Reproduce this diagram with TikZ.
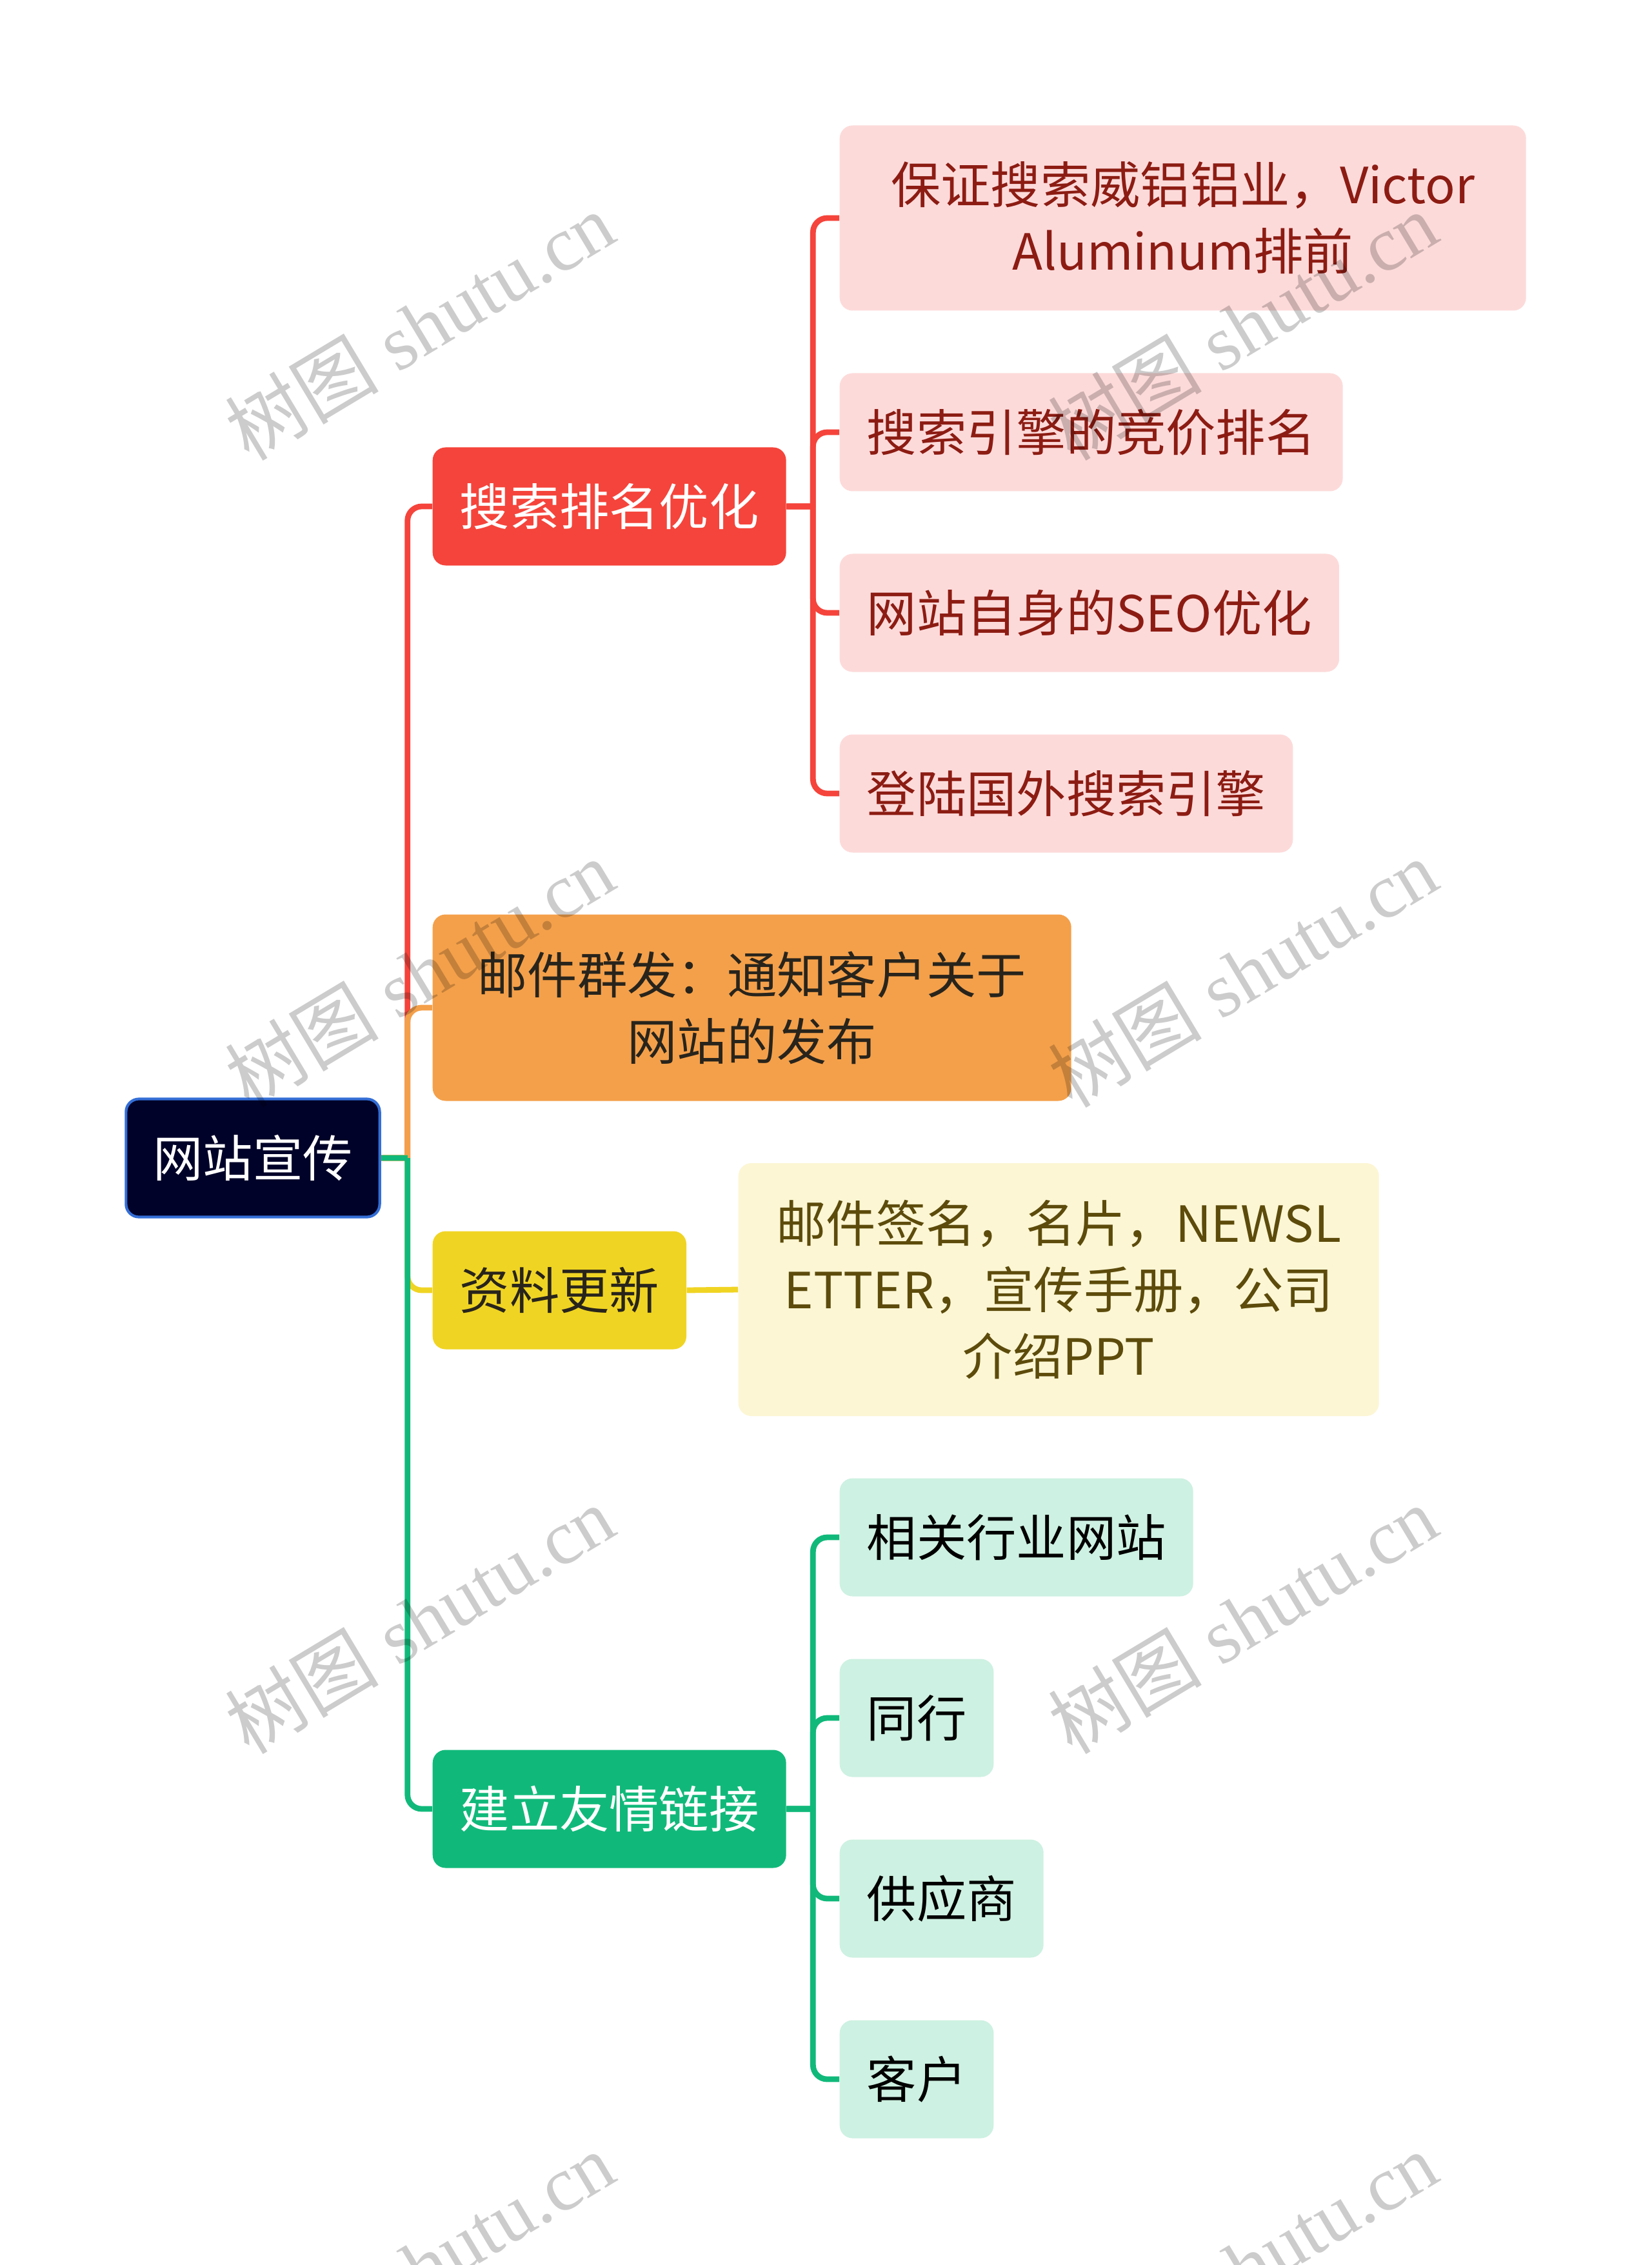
\documentclass[tikz,border=0pt]{standalone}
\usepackage{fontspec}
\setmainfont{Noto Sans CJK SC}
\newfontfamily\wmcjk{Noto Sans CJK SC}
\newfontfamily\wmlatin{Liberation Serif}
\usetikzlibrary{
    positioning,
    calc
}
\definecolor{rootnavy}{RGB}{0,2,41}
\definecolor{rootblue}{RGB}{52,110,214}
\definecolor{searchred}{RGB}{245,68,59}
\definecolor{mailorange}{RGB}{244,160,74}
\definecolor{docyellow}{RGB}{240,212,35}
\definecolor{linkgreen}{RGB}{16,185,122}
\definecolor{redleaf}{RGB}{253,218,218}
\definecolor{yellowleaf}{RGB}{252,246,212}
\definecolor{greenleaf}{RGB}{205,241,226}
\definecolor{redtext}{RGB}{140,28,19}
\definecolor{yellowtext}{RGB}{92,75,11}
\definecolor{darktext}{RGB}{40,36,28}

\begin{document}
\begin{tikzpicture}[
        box/.style={rounded corners=0.2cm, minimum height=1.83cm, inner xsep=0.42cm, anchor=west, align=center, font=\fontsize{22}{29.3}\selectfont},
        topic/.style={box, fill=#1},
        leaf/.style={box, fill=#1},
        link/.style={line width=2.5pt},
        wmtext/.style={text=black, opacity=0.2, rotate=31, font=\wmlatin\fontsize{34}{34}\selectfont}
    ]
        \clip (0,0) rectangle (25.6,-35.11);
        \fill[white] (0,0) rectangle (25.6,-35.11);

        % Root
        \node[box, anchor=center, fill=rootnavy, draw=rootblue, line width=1.2pt, text=white, minimum width=3.9cm] (site) at (3.92,-17.95) {网站宣传};

        % Main branches
        \node[topic=searchred, text=white] (rank) at (6.70,-7.85) {搜索排名优化};
        \node[topic=mailorange, text=darktext, minimum width=9.9cm, minimum height=2.89cm] (mail) at (6.70,-15.62) {邮件群发：通知客户关于\\网站的发布};
        \node[topic=docyellow, text=darktext] (docs) at (6.70,-20.00) {资料更新};
        \node[topic=linkgreen, text=white] (links) at (6.70,-28.04) {建立友情链接};

        % Search leaves
        \node[leaf=redleaf, text=redtext, minimum width=10.64cm, minimum height=2.87cm] (victor) at (13.01,-3.38) {保证搜索威铝铝业，Victor\\Aluminum排前};
        \node[leaf=redleaf, text=redtext] (bid) at (13.01,-6.70) {搜索引擎的竞价排名};
        \node[leaf=redleaf, text=redtext] (seo) at (13.01,-9.50) {网站自身的SEO优化};
        \node[leaf=redleaf, text=redtext] (abroad) at (13.01,-12.30) {登陆国外搜索引擎};

        % Material leaf
        \node[leaf=yellowleaf, text=yellowtext, minimum width=9.93cm, minimum height=3.92cm] (print) at (11.44,-19.99) {邮件签名，名片，NEWSL\\ETTER，宣传手册，公司\\介绍PPT};

        % Link leaves
        \node[leaf=greenleaf, text=black] (trade) at (13.01,-23.83) {相关行业网站};
        \node[leaf=greenleaf, text=black] (peer) at (13.01,-26.63) {同行};
        \node[leaf=greenleaf, text=black] (supplier) at (13.01,-29.43) {供应商};
        \node[leaf=greenleaf, text=black] (client) at (13.01,-32.23) {客户};

        % Connectors
        \foreach \c/\n in {searchred/rank, mailorange/mail, docyellow/docs, linkgreen/links} {
            \draw[link, \c] (site.east) -- ++(0.41,0) [rounded corners=0.22cm] ++(0,0) |- (\n.west);
        }
        \foreach \n in {victor, bid, seo, abroad} {
            \draw[link, searchred] (rank.east) -- ++(0.41,0) [rounded corners=0.22cm] ++(0,0) |- (\n.west);
        }
        \draw[link, docyellow] (docs.east) -- (print.west);
        \foreach \n in {trade, peer, supplier, client} {
            \draw[link, linkgreen] (links.east) -- ++(0.41,0) [rounded corners=0.22cm] ++(0,0) |- (\n.west);
        }

        % Watermarks
        \foreach \x/\y [count=\i] in {6.50/-5.05, 19.26/-5.05, 6.50/-15.08, 19.26/-15.08, 6.50/-25.10, 19.26/-25.10, 6.50/-35.12, 19.26/-35.12} {
            \node[wmtext] (wm\i) at (\x,\y) {{\wmcjk 树图} shutu.cn};
        }
\end{tikzpicture}
\end{document}
